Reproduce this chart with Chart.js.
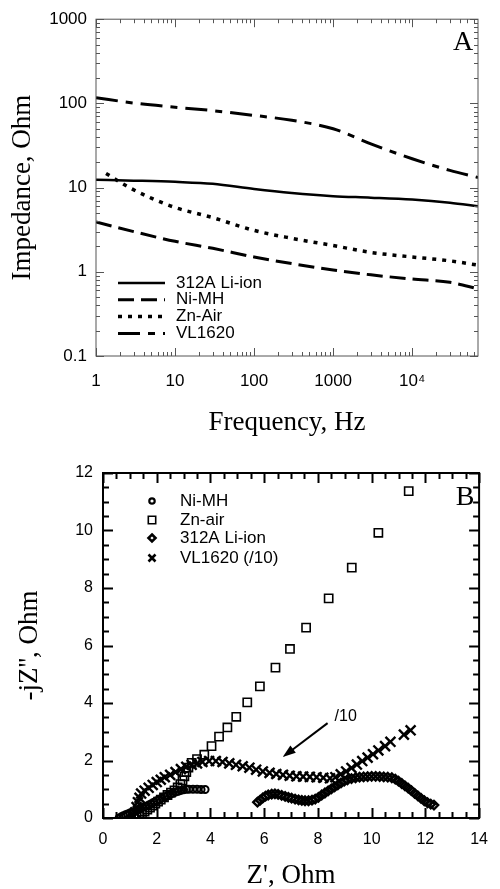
<!DOCTYPE html>
<html><head><meta charset="utf-8"><title>Battery impedance</title>
<script src="https://cdn.jsdelivr.net/npm/chart.js"></script>
<style>
  body { margin: 0; background: #ffffff; }
  #wrap { position: relative; width: 500px; height: 889px; }
  canvas { display: block; }
</style>
</head>
<body>
<div id="wrap">
  <canvas id="chartA" width="500" height="440"></canvas>
  <canvas id="chartB" width="500" height="449"></canvas>
</div>

<script>
// ---- panel A : |Z| vs frequency ----
const freqHz   = [1, 3, 10, 30, 100, 300, 1000, 3000, 10000, 30000, 68000];
const liIonZ   = [12.4, 12.1, 11.7, 11.1, 9.6, 8.6, 7.9, 7.6, 7.2, 6.6, 6.0];
const niMhZ    = [3.9, 3.0, 2.3, 1.9, 1.5, 1.25, 1.05, 0.92, 0.82, 0.75, 0.63];
const vl1620Z  = [117, 101, 90, 82, 72, 63, 50, 33, 22, 16, 13.2];
const znAirHz  = [1.34, 2.6, 5, 10, 30, 100, 300, 1000, 3000, 10000, 30000, 68000];
const znAirZ   = [14.7, 10.1, 7.5, 5.8, 4.4, 3.1, 2.5, 2.05, 1.7, 1.5, 1.35, 1.2];
const freqTicks = [1, 10, 100, 1000, 10000];
const impTicks  = [0.1, 1, 10, 100, 1000];

// ---- panel B : Nyquist (Z', -jZ'') ----
const nimhRe = [0.6,0.68,0.76,0.84,0.92,1.0,1.08,1.16,1.24,1.32,1.4,1.5,1.6,1.7,1.8,1.9,2.0,2.1,2.2,2.3,2.4,2.5,2.6,2.7,2.8,2.9,3.0,3.1,3.2,3.35,3.5,3.65,3.8];
const nimhIm = [0.0,0.04,0.08,0.11,0.14,0.17,0.2,0.23,0.26,0.29,0.33,0.37,0.41,0.45,0.5,0.55,0.6,0.65,0.69,0.73,0.78,0.82,0.86,0.9,0.93,0.96,0.98,1.0,1.0,1.0,1.0,0.99,0.99];
const znRe = [1.25,1.35,1.45,1.55,1.65,1.75,1.85,1.95,2.05,2.15,2.27,2.4,2.53,2.66,2.78,2.88,2.96,3.03,3.1,3.18,3.3,3.5,3.77,4.04,4.32,4.63,4.96,5.37,5.84,6.42,6.96,7.56,8.4,9.26,10.25,11.38];
const znIm = [0.02,0.08,0.15,0.22,0.29,0.36,0.43,0.5,0.57,0.64,0.72,0.8,0.88,0.96,1.06,1.18,1.31,1.45,1.6,1.75,1.92,2.05,2.2,2.5,2.83,3.15,3.52,4.02,4.58,5.23,5.88,6.62,7.64,8.71,9.92,11.37];
const liRe = [5.75,5.85,5.95,6.05,6.15,6.28,6.4,6.52,6.65,6.78,6.9,7.02,7.15,7.28,7.4,7.52,7.65,7.78,7.9,8.02,8.14,8.26,8.38,8.5,8.62,8.74,8.86,8.98,9.1,9.25,9.4,9.55,9.7,9.85,10.0,10.15,10.3,10.45,10.6,10.75,10.88,11.0,11.12,11.24,11.36,11.48,11.6,11.72,11.84,11.96,12.08,12.2,12.32];
const liIm = [0.55,0.62,0.7,0.76,0.8,0.83,0.84,0.82,0.79,0.75,0.72,0.69,0.66,0.63,0.61,0.6,0.6,0.62,0.66,0.72,0.8,0.87,0.94,1.01,1.08,1.15,1.22,1.28,1.33,1.37,1.4,1.42,1.43,1.44,1.45,1.45,1.44,1.43,1.42,1.4,1.35,1.28,1.2,1.12,1.04,0.95,0.86,0.77,0.68,0.6,0.53,0.48,0.45];
const vlRe = [1.15,1.2,1.25,1.3,1.36,1.42,1.55,1.7,1.85,2.0,2.15,2.3,2.5,2.7,2.9,3.1,3.3,3.5,3.7,3.95,4.2,4.45,4.7,4.95,5.2,5.45,5.7,5.95,6.2,6.45,6.7,6.95,7.2,7.45,7.7,7.95,8.2,8.45,8.65,8.85,9.05,9.25,9.45,9.65,9.85,10.05,10.25,10.5,10.7,11.2,11.45];
const vlIm = [0.05,0.2,0.38,0.55,0.7,0.85,0.95,1.05,1.15,1.25,1.33,1.42,1.5,1.6,1.7,1.78,1.85,1.9,1.95,1.98,1.98,1.95,1.9,1.85,1.8,1.75,1.68,1.62,1.57,1.53,1.5,1.47,1.45,1.44,1.43,1.42,1.4,1.38,1.42,1.52,1.62,1.74,1.86,1.98,2.1,2.22,2.35,2.5,2.65,2.9,3.05];
const zTicks = [0, 2, 4, 6, 8, 10, 12, 14];

const pairs = (xs, ys) => xs.map((x, i) => ({x: x, y: ys[i]}));

const SANS = "'Liberation Sans', Arial, sans-serif";
const SERIF = "'Liberation Serif', 'Times New Roman', serif";
Chart.defaults.font.family = SANS;
Chart.defaults.color = '#000';
Chart.defaults.animation = false;

function logMarks(lo, hi) {
  const out = [];
  for (let d = Math.floor(Math.log10(lo)); d <= Math.ceil(Math.log10(hi)); d++) {
    for (let k = 1; k < 10; k++) {
      const v = k * Math.pow(10, d);
      if (v >= lo * 0.999 && v <= hi * 1.001) out.push({v: v, major: k === 1});
    }
  }
  return out;
}
function linMarks(lo, hi, step, every) {
  const out = [];
  for (let v = lo; v <= hi + 1e-9; v += step) {
    out.push({v: v, major: Math.abs(v / every - Math.round(v / every)) < 1e-6});
  }
  return out;
}

// inward ticks on all four sides + frame
const frameTicks = {
  id: 'frameTicks',
  afterDatasetsDraw(chart, args, o) {
    const {ctx, chartArea: a} = chart;
    const x = chart.scales.x, y = chart.scales.y;
    ctx.save();
    ctx.strokeStyle = o.color;
    ctx.lineWidth = o.width;
    ctx.beginPath();
    o.xMarks.forEach(t => {
      const px = Math.round(x.getPixelForValue(t.v)) + 0.5;
      const len = t.major ? o.major : o.minor;
      ctx.moveTo(px, a.bottom); ctx.lineTo(px, a.bottom - len);
      ctx.moveTo(px, a.top); ctx.lineTo(px, a.top + len);
    });
    o.yMarks.forEach(t => {
      const py = Math.round(y.getPixelForValue(t.v)) + 0.5;
      const len = t.major ? o.major : o.minor;
      ctx.moveTo(a.left, py); ctx.lineTo(a.left + len, py);
      ctx.moveTo(a.right, py); ctx.lineTo(a.right - len, py);
    });
    ctx.stroke();
    ctx.strokeRect(a.left, a.top, a.right - a.left, a.bottom - a.top);
    ctx.restore();
  }
};

// panel letter
const panelLetter = {
  id: 'panelLetter',
  afterDraw(chart, args, o) {
    const ctx = chart.ctx;
    ctx.save();
    ctx.fillStyle = '#000';
    ctx.font = o.size + 'px ' + SERIF;
    ctx.textAlign = 'center';
    ctx.textBaseline = 'middle';
    ctx.fillText(o.text, o.x, o.y);
    ctx.restore();
  }
};

// line-style key for panel A
const lineKey = {
  id: 'lineKey',
  afterDraw(chart, args, o) {
    const ctx = chart.ctx;
    ctx.save();
    chart.data.datasets.forEach((ds, i) => {
      const y = o.y + i * o.step;
      ctx.strokeStyle = '#000';
      ctx.lineWidth = ds.borderWidth;
      ctx.setLineDash(ds.borderDash || []);
      ctx.beginPath();
      ctx.moveTo(o.x1, y); ctx.lineTo(o.x2, y);
      ctx.stroke();
      ctx.setLineDash([]);
      ctx.fillStyle = '#000';
      ctx.font = o.size + 'px ' + SANS;
      ctx.textBaseline = 'middle';
      ctx.fillText(ds.label, o.tx, y);
    });
    ctx.restore();
  }
};

function drawMark(ctx, style, x, y, r) {
  ctx.beginPath();
  if (style === 'circle') {
    ctx.arc(x, y, r, 0, Math.PI * 2);
  } else if (style === 'rect') {
    ctx.rect(x - r, y - r, 2 * r, 2 * r);
  } else if (style === 'rectRot') {
    ctx.moveTo(x, y - r); ctx.lineTo(x + r, y); ctx.lineTo(x, y + r); ctx.lineTo(x - r, y); ctx.closePath();
  } else {
    ctx.moveTo(x - r, y - r); ctx.lineTo(x + r, y + r);
    ctx.moveTo(x + r, y - r); ctx.lineTo(x - r, y + r);
  }
  ctx.stroke();
}

// marker key + "/10" arrow for panel B
const markKey = {
  id: 'markKey',
  afterDraw(chart, args, o) {
    const ctx = chart.ctx;
    ctx.save();
    ctx.strokeStyle = '#000';
    ctx.fillStyle = '#000';
    chart.data.datasets.forEach((ds, i) => {
      const y = o.y + o.rows[i];
      ctx.lineWidth = o.widths[i];
      drawMark(ctx, ds.pointStyle, o.mx, y, o.sizes[i]);
      ctx.font = o.size + 'px ' + SANS;
      ctx.textBaseline = 'middle';
      ctx.fillText(ds.label, o.tx, y);
    });
    // arrow
    const sx = chart.scales.x, sy = chart.scales.y;
    const x0 = sx.getPixelForValue(o.arrowFrom[0]), y0 = sy.getPixelForValue(o.arrowFrom[1]);
    const x1 = sx.getPixelForValue(o.arrowTo[0]), y1 = sy.getPixelForValue(o.arrowTo[1]);
    const ang = Math.atan2(y1 - y0, x1 - x0);
    ctx.lineWidth = 2;
    ctx.beginPath();
    ctx.moveTo(x0, y0);
    ctx.lineTo(x1 - 8 * Math.cos(ang), y1 - 8 * Math.sin(ang));
    ctx.stroke();
    ctx.beginPath();
    ctx.moveTo(x1, y1);
    ctx.lineTo(x1 - 13 * Math.cos(ang) + 4.5 * Math.sin(ang), y1 - 13 * Math.sin(ang) - 4.5 * Math.cos(ang));
    ctx.lineTo(x1 - 13 * Math.cos(ang) - 4.5 * Math.sin(ang), y1 - 13 * Math.sin(ang) + 4.5 * Math.cos(ang));
    ctx.closePath();
    ctx.fill();
    ctx.font = '16px ' + SANS;
    ctx.textBaseline = 'middle';
    ctx.fillText(o.note, sx.getPixelForValue(o.notePos[0]), sy.getPixelForValue(o.notePos[1]));
    ctx.restore();
  }
};

// ---------- chart A ----------
new Chart(document.getElementById('chartA'), {
  type: 'line',
  data: {
    datasets: [
      {label: '312A Li-ion', data: pairs(freqHz, liIonZ), borderDash: [], borderWidth: 2.5},
      {label: 'Ni-MH', data: pairs(freqHz, niMhZ), borderDash: [16, 7], borderWidth: 3},
      {label: 'Zn-Air', data: pairs(znAirHz, znAirZ), borderDash: [4, 6], borderWidth: 3.5},
      {label: 'VL1620', data: pairs(freqHz, vl1620Z), borderDash: [22, 8, 7, 8], borderWidth: 3}
    ].map(d => Object.assign({borderColor: '#000', pointRadius: 0, fill: false, cubicInterpolationMode: 'monotone'}, d))
  },
  options: {
    responsive: false,
    layout: {padding: {left: 0, right: 22, top: 19, bottom: 0}},
    scales: {
      x: {
        type: 'logarithmic', min: 1, max: 68000,
        afterBuildTicks: s => { s.ticks = freqTicks.map(v => ({value: v})); },
        afterFit: s => { s.height = 84; },
        grid: {display: false, drawTicks: false},
        border: {display: false},
        ticks: {padding: 15, font: {size: 17}, maxRotation: 0, autoSkip: false,
                callback: v => v === 10000 ? '10\u2074' : String(v)},
        title: {display: true, text: 'Frequency, Hz', font: {family: SERIF, size: 27, lineHeight: 1}, padding: {top: 0, bottom: 4}}
      },
      y: {
        type: 'logarithmic', min: 0.1, max: 1000,
        afterBuildTicks: s => { s.ticks = impTicks.map(v => ({value: v})); },
        afterFit: s => { s.width = 96; },
        grid: {display: false, drawTicks: false},
        border: {display: false},
        ticks: {padding: 9, font: {size: 17}, autoSkip: false, callback: v => String(v)},
        title: {display: true, text: 'Impedance, Ohm', font: {family: SERIF, size: 27, lineHeight: 1}, padding: {top: 9, bottom: 0}}
      }
    },
    plugins: {
      legend: {display: false},
      tooltip: {enabled: false},
      frameTicks: {color: '#555', width: 1, major: 8, minor: 4, xMarks: logMarks(1, 68000), yMarks: logMarks(0.1, 1000)},
      lineKey: {x1: 118, x2: 165, tx: 176, y: 283, step: 16.8, size: 17},
      panelLetter: {text: 'A', x: 463, y: 43, size: 28}
    }
  },
  plugins: [frameTicks, lineKey, panelLetter]
});

// ---------- chart B ----------
new Chart(document.getElementById('chartB'), {
  type: 'scatter',
  data: {
    datasets: [
      {label: 'Ni-MH', data: pairs(nimhRe, nimhIm), pointStyle: 'circle', pointRadius: 3.5, borderWidth: 2},
      {label: 'Zn-air', data: pairs(znRe, znIm), pointStyle: 'rect', pointRadius: 5.8, borderWidth: 1.6},
      {label: '312A Li-ion', data: pairs(liRe, liIm), pointStyle: 'rectRot', pointRadius: 4.2, borderWidth: 2.4},
      {label: 'VL1620 (/10)', data: pairs(vlRe, vlIm), pointStyle: 'crossRot', pointRadius: 7, borderWidth: 2.4}
    ].map(d => Object.assign({borderColor: '#000', backgroundColor: 'rgba(0,0,0,0)'}, d))
  },
  options: {
    responsive: false,
    layout: {padding: {left: 0, right: 12, top: 33, bottom: 0}},
    scales: {
      x: {
        type: 'linear', min: 0, max: 14,
        afterBuildTicks: s => { s.ticks = zTicks.map(v => ({value: v})); },
        afterFit: s => { s.height = 71; },
        grid: {display: false, drawTicks: false},
        border: {display: false},
        ticks: {padding: 12, font: {size: 16}, maxRotation: 0, autoSkip: false},
        title: {display: true, text: "Z', Ohm", font: {family: SERIF, size: 27, lineHeight: 1}, padding: {top: 0, bottom: 0}}
      },
      y: {
        type: 'linear', min: 0, max: 12,
        afterBuildTicks: s => { s.ticks = zTicks.filter(v => v <= 12).map(v => ({value: v})); },
        afterFit: s => { s.width = 103; },
        grid: {display: false, drawTicks: false},
        border: {display: false},
        ticks: {padding: 10, font: {size: 16}, autoSkip: false},
        title: {display: true, text: "-jZ'', Ohm", font: {family: SERIF, size: 27, lineHeight: 1}, padding: {top: 16, bottom: 0}}
      }
    },
    plugins: {
      legend: {display: false},
      tooltip: {enabled: false},
      frameTicks: {color: '#000', width: 2, major: 10, minor: 6, xMarks: linMarks(0, 14, 0.5, 2), yMarks: linMarks(0, 12, 0.5, 2)},
      markKey: {mx: 152, tx: 180, y: 61, rows: [0, 19, 37, 57], sizes: [2.7, 3.7, 3.5, 3.5], widths: [2.2, 1.6, 2.6, 2.6], size: 17,
                arrowFrom: [8.36, 3.3], arrowTo: [6.69, 2.12], note: '/10', notePos: [8.62, 3.51]},
      panelLetter: {text: 'B', x: 465, y: 58, size: 28}
    }
  },
  plugins: [frameTicks, markKey, panelLetter]
});
</script>
</body></html>
